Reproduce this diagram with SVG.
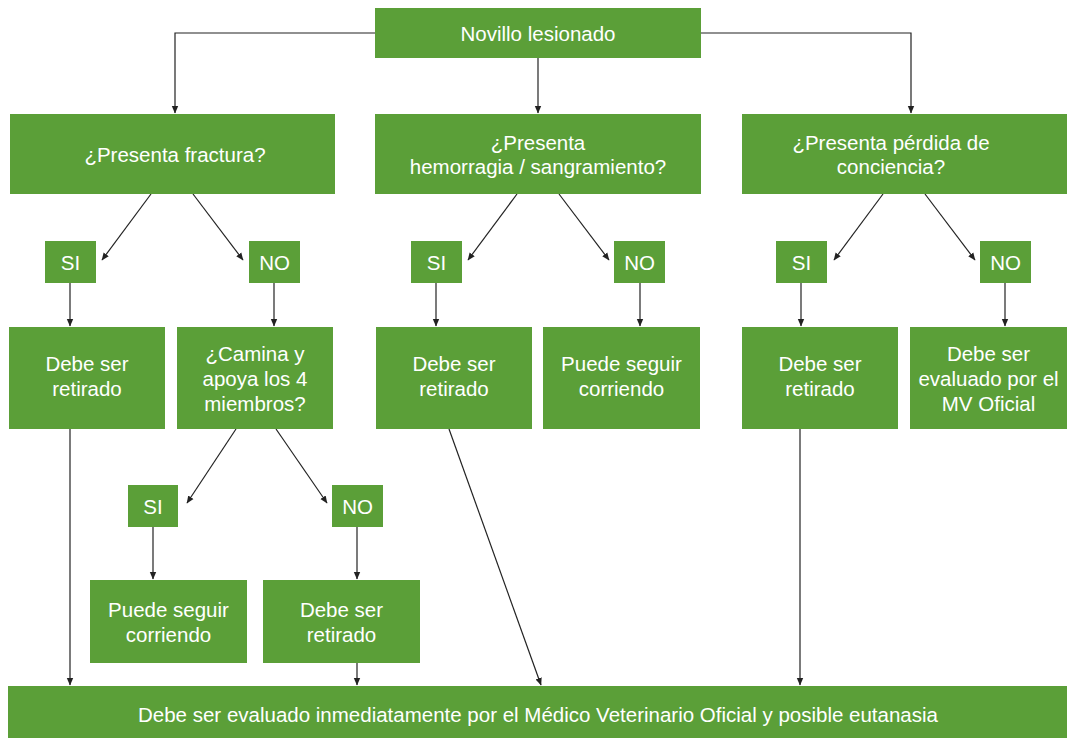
<svg xmlns="http://www.w3.org/2000/svg" width="1073" height="738" viewBox="0 0 1073 738">
<defs>
<marker id="ah" markerWidth="8" markerHeight="8" refX="7" refY="4" orient="auto" markerUnits="userSpaceOnUse">
<path d="M0,0.8 L7.5,4 L0,7.2 Z" fill="#222"/>
</marker>
<style>
.b{fill:#5b9f38}
.t{fill:#fff;font-family:"Liberation Sans",Arial,sans-serif;font-size:20.5px;text-anchor:middle;dominant-baseline:central}
.c{fill:none;stroke:#222;stroke-width:1.2;marker-end:url(#ah)}
</style>
</defs>
<rect width="1073" height="738" fill="#fff"/>
<g id="connectors">
<path class="c" d="M375,33 H175 V113"/>
<path class="c" d="M701,33 H911 V113"/>
<path class="c" d="M538,58 V113"/>
<path class="c" d="M151,194 L102,260"/>
<path class="c" d="M193,194 L243,260"/>
<path class="c" d="M517,194 L468,260"/>
<path class="c" d="M559,194 L609,260"/>
<path class="c" d="M883,194 L834,260"/>
<path class="c" d="M925,194 L975,260"/>
<path class="c" d="M70,283 V326"/>
<path class="c" d="M274,283 V326"/>
<path class="c" d="M436,283 V326"/>
<path class="c" d="M640,283 V326"/>
<path class="c" d="M801,283 V326"/>
<path class="c" d="M1005,283 V326"/>
<path class="c" d="M236,429 L187,503"/>
<path class="c" d="M276,429 L327,503"/>
<path class="c" d="M153,527 V579"/>
<path class="c" d="M357,527 V579"/>
<path class="c" d="M70,429 V685"/>
<path class="c" d="M357,663 V685"/>
<path class="c" d="M449,429 L541,685"/>
<path class="c" d="M800,429 V685"/>
</g>
<g id="n-top"><rect class="b" x="375" y="8" width="326" height="50"/><text class="t" x="538" y="33">Novillo lesionado</text></g>
<g id="q-fractura"><rect class="b" x="10" y="114" width="325" height="80"/><text class="t" x="175" y="154">¿Presenta fractura?</text></g>
<g id="q-hemorragia"><rect class="b" x="375" y="114" width="326" height="80"/><text class="t" x="538" y="142">¿Presenta<tspan x="538" dy="24">hemorragia / sangramiento?</tspan></text></g>
<g id="q-conciencia"><rect class="b" x="742" y="114" width="325" height="80"/><text class="t" x="891" y="142">¿Presenta pérdida de<tspan x="891" dy="24">conciencia?</tspan></text></g>
<g id="si1"><rect class="b" x="45" y="241" width="51" height="42"/><text class="t" x="70.5" y="262">SI</text></g>
<g id="no1"><rect class="b" x="249" y="241" width="51" height="42"/><text class="t" x="274.5" y="262">NO</text></g>
<g id="si2"><rect class="b" x="411" y="241" width="51" height="42"/><text class="t" x="436.5" y="262">SI</text></g>
<g id="no2"><rect class="b" x="614" y="241" width="51" height="42"/><text class="t" x="639.5" y="262">NO</text></g>
<g id="si3"><rect class="b" x="776" y="241" width="51" height="42"/><text class="t" x="801.5" y="262">SI</text></g>
<g id="no3"><rect class="b" x="980" y="241" width="51" height="42"/><text class="t" x="1005.5" y="262">NO</text></g>
<g id="r1"><rect class="b" x="9" y="327" width="156" height="102"/><text class="t" x="87" y="363">Debe ser<tspan x="87" dy="25">retirado</tspan></text></g>
<g id="q-camina"><rect class="b" x="177" y="327" width="156" height="102"/><text class="t" x="255" y="353">¿Camina y<tspan x="255" dy="25">apoya los 4</tspan><tspan x="255" dy="25">miembros?</tspan></text></g>
<g id="r2"><rect class="b" x="376" y="327" width="156" height="102"/><text class="t" x="454" y="363">Debe ser<tspan x="454" dy="25">retirado</tspan></text></g>
<g id="p2"><rect class="b" x="543" y="327" width="157" height="102"/><text class="t" x="621.5" y="363">Puede seguir<tspan x="621.5" dy="25">corriendo</tspan></text></g>
<g id="r3"><rect class="b" x="742" y="327" width="156" height="102"/><text class="t" x="820" y="363">Debe ser<tspan x="820" dy="25">retirado</tspan></text></g>
<g id="mv3"><rect class="b" x="910" y="327" width="157" height="102"/><text class="t" x="988.5" y="353">Debe ser<tspan x="988.5" dy="25">evaluado por el</tspan><tspan x="988.5" dy="25">MV Oficial</tspan></text></g>
<g id="si4"><rect class="b" x="128" y="485" width="50" height="42"/><text class="t" x="153" y="506">SI</text></g>
<g id="no4"><rect class="b" x="332" y="485" width="51" height="42"/><text class="t" x="357.5" y="506">NO</text></g>
<g id="p4"><rect class="b" x="90" y="580" width="157" height="83"/><text class="t" x="168.5" y="609">Puede seguir<tspan x="168.5" dy="25">corriendo</tspan></text></g>
<g id="r4"><rect class="b" x="263" y="580" width="157" height="83"/><text class="t" x="341.5" y="609">Debe ser<tspan x="341.5" dy="25">retirado</tspan></text></g>
<g id="final"><rect class="b" x="8" y="686" width="1059" height="52"/><text class="t" x="538" y="714">Debe ser evaluado inmediatamente por el Médico Veterinario Oficial y posible eutanasia</text></g>
</svg>
